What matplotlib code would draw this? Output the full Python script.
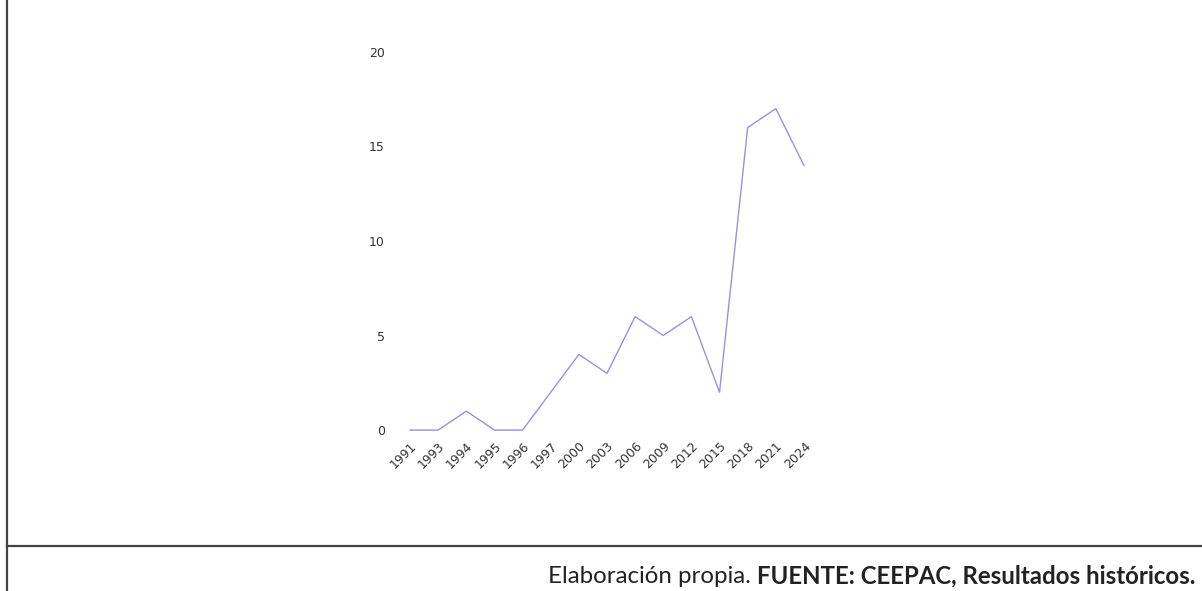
import matplotlib.pyplot as plt
from matplotlib.lines import Line2D

# datos
years = ['1991', '1993', '1994', '1995', '1996', '1997', '2000', '2003',
         '2006', '2009', '2012', '2015', '2018', '2021', '2024']
values = [0, 0, 1, 0, 0, 2, 4, 3, 6, 5, 6, 2, 16, 17, 14]
yticks = [0, 5, 10, 15, 20]

W, H = 1202, 591
fig = plt.figure(figsize=(W / 100, H / 100), dpi=100)

# posicion del eje en pixeles
left, right = 396, 818
bottom, top = 439.5, 33
ax = fig.add_axes([left / W, 1 - bottom / H, (right - left) / W, (bottom - top) / H])
x = list(range(len(years)))
ax.plot(x, values, color='#9a90dc', lw=1.0)
ax.set_xlim(-0.5, 14.5)
ax.set_ylim(-0.5, 21)
ax.set_xticks(x)
ax.set_xticklabels(years, rotation=45, ha='right', rotation_mode='anchor')
ax.set_yticks(yticks)
ax.tick_params(length=0, labelsize=9, labelcolor='#333333')
ax.tick_params(axis='y', pad=8)
ax.tick_params(axis='x', pad=0)
for s in ax.spines.values():
    s.set_visible(False)

# marco del documento escaneado
fig.add_artist(Line2D([7 / W, 7 / W], [0, 1], color='#444444', lw=1.6))
fig.add_artist(Line2D([7 / W, 1], [1 - 546 / H, 1 - 546 / H], color='#444444', lw=1.6))

t_bold = fig.text(1195 / W, 1 - 583 / H, 'FUENTE: CEEPAC, Resultados históricos.',
                  ha='right', va='baseline', fontsize=17.3, fontweight='bold',
                  family='Lato', color='#222222')
ax.annotate('Elaboración propia. ', xy=(0, 0), xycoords=t_bold, ha='right',
            va='bottom', fontsize=17.3, family='Lato',
            color='#222222', annotation_clip=False)

fig.savefig('out.png', dpi=100)
